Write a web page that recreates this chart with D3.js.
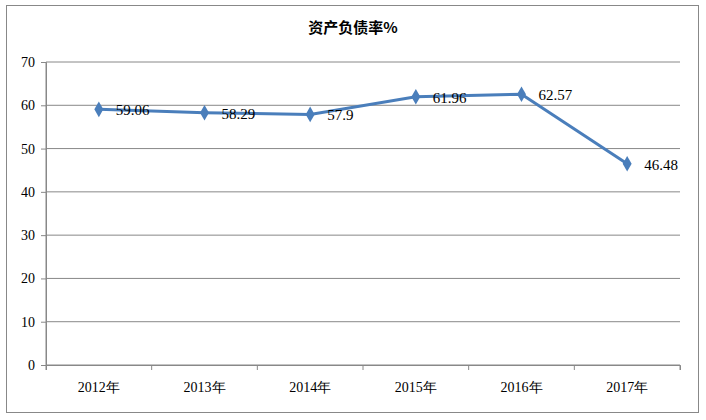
<!DOCTYPE html><html><head><meta charset="utf-8"><script src="https://cdn.jsdelivr.net/npm/d3@7"></script>
<style>body{margin:0;background:#fff}</style></head><body><svg id="c" width="706" height="420"></svg>
<script>
const categories=["2012年","2013年","2014年","2015年","2016年","2017年"];
const values=[59.06,58.29,57.9,61.96,62.57,46.48];
const labels=["59.06","58.29","57.9","61.96","62.57","46.48"];
const yTicks=[0,10,20,30,40,50,60,70];
const svg=d3.select("#c");
svg.append("rect").attr("x",6.5).attr("y",5.5).attr("width",692).attr("height",407).attr("fill","#fff").attr("stroke","#888");
const x=d3.scaleBand().domain(categories).range([46,680]);
const y=d3.scaleLinear().domain([0,70]).range([365,62]);
const g=svg.append("g");
g.selectAll(".gl").data(yTicks).join("line").attr("x1",46).attr("x2",680).attr("y1",d=>y(d)).attr("y2",d=>y(d)).attr("stroke","#888").attr("stroke-width",1);
g.append("line").attr("x1",46).attr("x2",46).attr("y1",62).attr("y2",365).attr("stroke","#888");
const ya=svg.append("g").attr("transform","translate(46,0)").call(d3.axisLeft(y).tickValues(yTicks).tickSize(5).tickPadding(6));
const xa=svg.append("g").attr("transform","translate(0,365)").call(d3.axisBottom(x).tickSize(5).tickPadding(12));
xa.selectAll(".tick line").attr("transform",`translate(${-x.bandwidth()/2},0)`);
xa.append("line").attr("x1",680).attr("x2",680).attr("y1",0).attr("y2",5).attr("stroke","#888");
[ya,xa].forEach(a=>{a.select(".domain").attr("stroke","#888");a.selectAll(".tick line").attr("stroke","#888");a.selectAll("text").attr("font-family","Liberation Serif").attr("font-size",14).attr("fill","#000");});
const cx=d=>x(d)+x.bandwidth()/2;
svg.append("path").datum(values).attr("fill","none").attr("stroke","#4a7ebb").attr("stroke-width",3)
 .attr("d",d3.line().x((d,i)=>cx(categories[i])).y(d=>y(d)));
svg.selectAll(".m").data(values).join("path").attr("fill","#4a7ebb")
 .attr("transform",(d,i)=>`translate(${cx(categories[i])},${y(d)})`).attr("d",d3.symbol(d3.symbolDiamond,70));
svg.selectAll(".l").data(values).join("text").attr("x",(d,i)=>cx(categories[i])+17).attr("y",d=>y(d)+6)
 .text((d,i)=>labels[i]).attr("font-family","Liberation Serif").attr("font-size",15);
svg.append("text").attr("x",353).attr("y",33).attr("text-anchor","middle").attr("font-family","Noto Sans CJK SC").attr("font-weight","bold").attr("font-size",15).text("资产负债率%");
</script></body></html>
